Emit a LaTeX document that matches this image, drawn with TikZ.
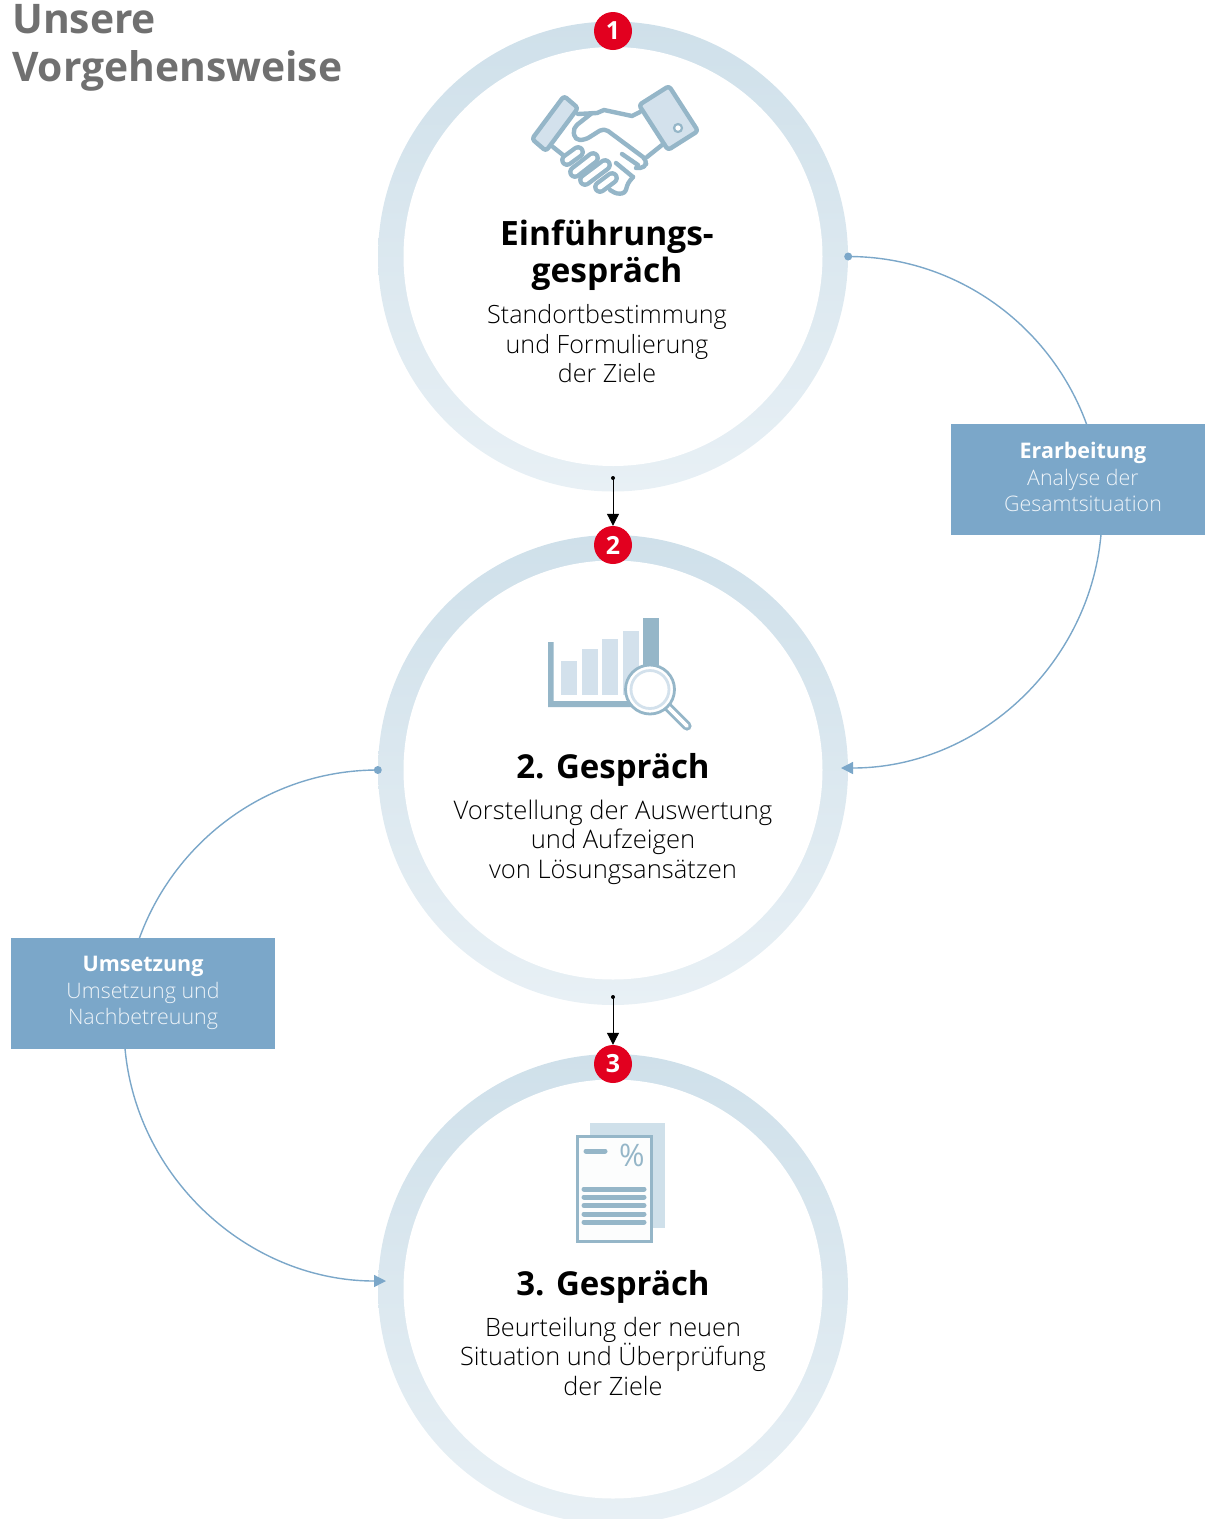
\documentclass[tikz,border=0pt]{standalone}
\usepackage{fontspec}
\setmainfont{Open Sans}
\newfontfamily\lightfont{Open Sans Light}
\usetikzlibrary{arrows.meta}
\definecolor{ringtop}{HTML}{CFE0EA}
\definecolor{ringbot}{HTML}{E8F0F5}
\definecolor{ico}{HTML}{95B6C8}
\definecolor{icofill}{HTML}{D3E1EC}
\definecolor{boxblue}{HTML}{7BA7C9}
\definecolor{badgered}{HTML}{E2001F}
\definecolor{titlegray}{HTML}{707070}
\definecolor{boxtext}{HTML}{EEF4F9}
\tikzset{
 x=1pt,y=-1pt,
 ring/.style={circle,minimum size=470pt,inner sep=0pt,top color=ringtop,bottom color=ringbot},
 hole/.style={circle,minimum size=419pt,inner sep=0pt,fill=white},
 badge/.style={circle,minimum size=38pt,inner sep=0pt,fill=badgered,text=white,font=\fontsize{25}{25}\selectfont\bfseries},
 flow/.style={draw=boxblue,line width=1.4pt},
 flowtip/.style={flow,-{Triangle[length=12pt,width=12pt]}},
 infobox/.style={fill=boxblue,inner sep=0pt,minimum height=111pt},
 boxlabel/.style={inner sep=0pt,align=center,text=boxtext,font=\fontsize{21.4}{26.5}\selectfont\lightfont},
 headline/.style={inner sep=0pt,align=center,font=\fontsize{33}{37}\selectfont\bfseries},
 bodytext/.style={inner sep=0pt,align=center},
 downarrow/.style={draw=black,line width=1pt,-{Triangle[length=12pt,width=12pt]}},
 icoline/.style={draw=ico,line width=4.4pt,line join=round,line cap=round},
 icofinger/.style={draw=ico,double=white,line width=4.4pt,double distance=5pt,line cap=round},
 docline/.style={draw=ico,line width=5pt,line cap=round},
}
\newcommand{\boxhead}[1]{{\bfseries\fontsize{21.5}{26.5}\selectfont\color{white}\rmfamily\bfseries #1}}
\begin{document}
\begin{tikzpicture}
\clip (0,0) rectangle (1205,1519);
% rings
\node[ring] (c1) at (613,256.5) {};
\node[hole] at (613,256.5) {};
\node[ring] (c2) at (613,770) {};
\node[hole] at (613,770) {};
\node[ring] (c3) at (613,1289) {};
\node[hole] at (613,1289) {};
% connectors
\coordinate (t1) at (841,768);
\coordinate (t2) at (386,1281);
\coordinate (e1) at (1102,512);
\coordinate (e2) at (124,1026);
\draw[flowtip] (c1.east) .. controls +(140,0) and +(0,-141) .. (e1) .. controls +(0,141) and +(144,0) .. (t1);
\draw[flowtip] (c2.west) .. controls +(-140,0) and +(0,-141) .. (e2) .. controls +(0,141) and +(-144,0) .. (t2);
\fill[boxblue] (c1.east) circle (4);
\fill[boxblue] (c2.west) circle (4);
% boxes
\node[infobox,minimum width=254pt] (b1) at (1078,479.5) {};
\node[boxlabel] (bt1) at (1083,477) {\boxhead{Erarbeitung}\\Analyse der\\Gesamtsituation};
\node[infobox,minimum width=264pt] (b2) at (143,993.5) {};
\node[boxlabel] (bt2) at (143,993) {\boxhead{Umsetzung}\\Umsetzung und\\Nachbetreuung};
% badges
\node[badge] (n1) at (613,31) {1};
\node[badge] (n2) at (613,545) {2};
\node[badge] (n3) at (613,1064) {3};
% small arrows
\coordinate (s1) at (613,478);
\coordinate (s2) at (613,997);
\fill (s1) circle (2);
\fill (s2) circle (2);
\draw[downarrow] (s1) -- (n2.north);
\draw[downarrow] (s2) -- (n3.north);
% title
\node[inner sep=0pt,anchor=base west,text=titlegray,font=\fontsize{40.8}{48}\selectfont\bfseries] (ti1) at (12,33) {Unsere};
\node[inner sep=0pt,anchor=base west,text=titlegray,font=\fontsize{40.8}{48}\selectfont\bfseries] (ti2) at (12,81) {Vorgehensweise};
% texts
\node[headline,font=\fontsize{33.5}{37}\selectfont\bfseries] (h1) at (607,255) {Einführungs-\\gespräch};
\node[bodytext,font=\fontsize{25.1}{29.5}\selectfont\lightfont] (p1) at (607,344) {Standortbestimmung\\und Formulierung\\der Ziele};
\node[headline] (h2) at (613,770) {2. Gespräch};
\node[bodytext,font=\fontsize{25.6}{29.5}\selectfont\lightfont] (p2) at (613,842) {Vorstellung der Auswertung\\und Aufzeigen\\von Lösungsansätzen};
\node[headline] (h3) at (613,1287) {3. Gespräch};
\node[bodytext,font=\fontsize{25.3}{29.5}\selectfont\lightfont] (p3) at (613,1356) {Beurteilung der neuen\\Situation und Überprüfung\\der Ziele};
% handshake icon
\draw[icoline,fill=icofill,rounded corners=3pt] (564,96) -- (578,108) -- (546,151) -- (532,139) -- cycle;
\draw[icoline,fill=icofill,rounded corners=3pt] (669,86) -- (698,131) -- (668,150) -- (639,105) -- cycle;
\draw[draw=ico,line width=2.2pt,fill=white] (678,128) circle (4);
\draw[icoline] (578,114) -- (597,113) -- (604,110) -- (632,116) -- (640,112);
\draw[icoline,rounded corners=5pt] (592,113) -- (573,128) -- (575,140) -- (585,140) -- (604,128) -- (647,160) -- (645,168) -- (636,168);
\draw[icoline] (662,145) -- (647,157);
\draw[icoline] (553,147) -- (563,155);
\draw[icoline] (622,154) -- (638,165);
\draw[icoline] (616,163) -- (633,177);
\draw[icoline,rounded corners=3pt] (633,177) -- (628,183) -- (625,193) -- (617,194) -- (610,190);
\draw[icofinger] (600,187) -- (612,178);
\draw[icofinger] (585,180) -- (605,165);
\draw[icofinger] (575,172) -- (593,158);
\draw[icofinger] (567,160) -- (578,152);
% chart icon
\fill[icofill] (561,661) rectangle (577,695);
\fill[icofill] (582,649) rectangle (598,695);
\fill[icofill] (602,639) rectangle (618,695);
\fill[icofill] (623,631) rectangle (639,695);
\fill[ico] (643,618) rectangle (659,680);
\fill[ico] (548,642) rectangle (553.5,707) (548,701) rectangle (640,707);
\draw[draw=ico,double=white,line width=2.8pt,double distance=3.6pt,line cap=round] (668,707) -- (687,726);
\draw[draw=ico,line width=2.8pt,fill=white] (650,689.5) circle (24.5);
\draw[draw=icofill,line width=2.8pt,fill=white] (650,689.5) circle (19);
% document icon
\fill[ringtop] (590,1123) rectangle (665,1228);
\draw[draw=ico,line width=3pt,fill=white!97!ico] (577.5,1136.5) rectangle (651.5,1241);
\draw[docline] (586,1151) -- (605,1151);
\node[inner sep=0pt,text=ico,font=\fontsize{31}{31}\selectfont] (pct) at (632,1155) {\%};
\draw[docline] (584,1189) -- (644,1189);
\draw[docline] (584,1197) -- (644,1197);
\draw[docline] (584,1205.5) -- (644,1205.5);
\draw[docline] (584,1214) -- (644,1214);
\draw[docline] (584,1222) -- (644,1222);
\end{tikzpicture}
\end{document}
